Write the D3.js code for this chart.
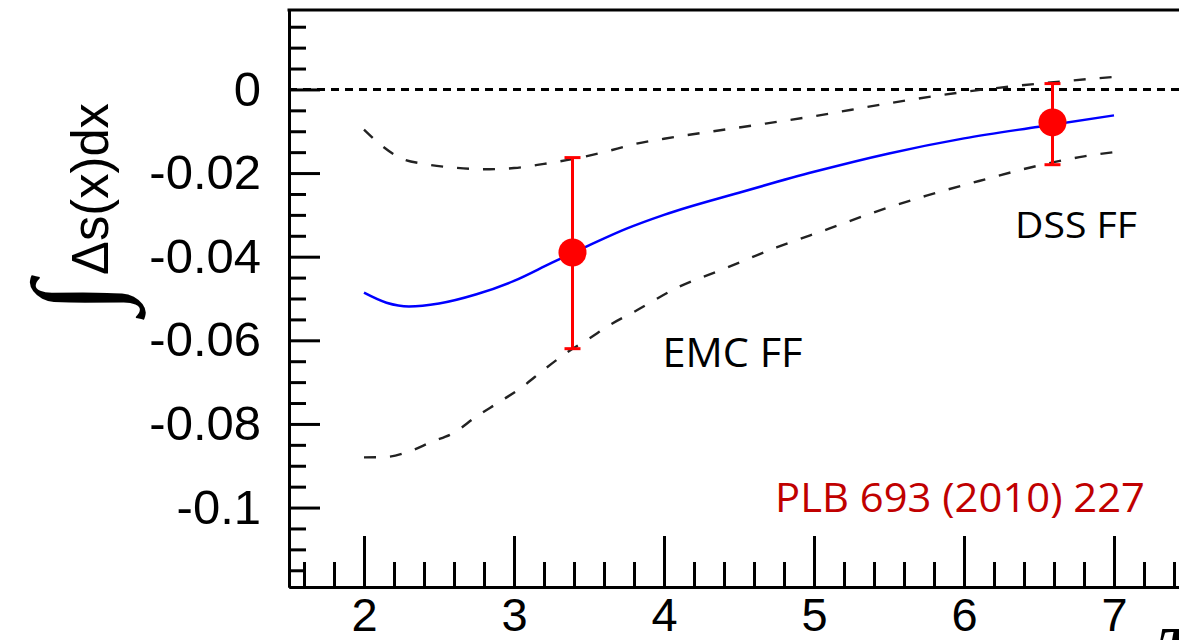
<!DOCTYPE html>
<html>
<head>
<meta charset="utf-8">
<script src="https://cdn.jsdelivr.net/npm/d3@7"></script>
<style>
  body { margin: 0; background: #fff; }
  svg { display: block; }
</style>
</head>
<body>
<script>
// tick values / labels
const xMajor = [2, 3, 4, 5, 6, 7];
const yMajor = [0, -0.02, -0.04, -0.06, -0.08, -0.1];

// central curve (blue)
const centralX = [2.0, 2.15, 2.3, 2.5, 2.75, 3.0, 3.25, 3.5, 3.75, 4.0, 4.5, 5.0, 5.5, 6.0, 6.5, 7.0];
const centralY = [-0.0486, -0.0510, -0.0519, -0.0512, -0.0490, -0.0458, -0.0415, -0.0373, -0.0333, -0.0300, -0.0247, -0.0197, -0.0153, -0.0117, -0.0089, -0.0062];

// upper band (dashed)
const upperX = [2.0, 2.1, 2.25, 2.4, 2.6, 2.8, 3.0, 3.2, 3.4, 3.6, 3.8, 4.0, 4.5, 5.0, 5.5, 6.0, 6.5, 7.0];
const upperY = [-0.0096, -0.0129, -0.0165, -0.0178, -0.0187, -0.0191, -0.0188, -0.0178, -0.0166, -0.0150, -0.0131, -0.0118, -0.0091, -0.0064, -0.0033, -0.0006, 0.0014, 0.0030];

// lower band (dashed)
const lowerX = [2.0, 2.15, 2.3, 2.45, 2.6, 2.75, 2.9, 3.05, 3.2, 3.35, 3.5, 3.65, 3.8, 4.1, 4.4, 4.75, 5.1, 5.4, 5.75, 6.1, 6.45, 6.8, 7.0];
const lowerY = [-0.0880, -0.0879, -0.0866, -0.0843, -0.0821, -0.0782, -0.0748, -0.0713, -0.0670, -0.0630, -0.0596, -0.0561, -0.0532, -0.0472, -0.0429, -0.0378, -0.0333, -0.0294, -0.0254, -0.0219, -0.0186, -0.0160, -0.0150];

// data points with error bars
const pointX = [3.39, 6.59];
const pointY = [-0.0390, -0.0079];
const pointLow = [-0.0620, -0.0180];
const pointHigh = [-0.0163, 0.0014];

// text annotations
const noteText = ["EMC FF", "DSS FF"];
const noteX = [3.99, 6.34];
const noteY = [-0.0664, -0.0355];
const refText = "PLB 693 (2010) 227";

const W = 1179, H = 640;

const svg = d3.select("body").append("svg")
    .attr("width", W)
    .attr("height", H);

// scales (frame runs past the right edge of the window)
const x = d3.scaleLinear().domain([1.5, 7.6]).range([289, 1204]);
const y = d3.scaleLinear().domain([-0.119, 0.019]).range([587, 10]);

const xMinor = d3.range(8, 38).map(i => +(i * 0.2).toFixed(1)).filter(v => !xMajor.includes(v));
const yMinor = d3.range(-23, 4).map(i => +(i * 0.005).toFixed(3)).filter(v => !yMajor.includes(v));

const fmt = d => d === 0 ? "0" : String(+d.toFixed(2));

function styleAxis(g, size) {
  g.selectAll("line, path").attr("stroke", "#000").attr("stroke-width", 3);
  g.selectAll("text")
    .attr("fill", "#000")
    .style("font-family", "'Liberation Sans', Arial, sans-serif")
    .style("font-size", (size || 49) + "px");
}

// y axis: minor then major ticks, pointing inward
svg.append("g")
    .attr("transform", `translate(${x(1.5)},0)`)
    .call(d3.axisLeft(y).tickValues(yMinor).tickSizeInner(-17).tickSizeOuter(0).tickFormat(""))
    .call(styleAxis);

svg.append("g")
    .attr("transform", `translate(${x(1.5)},0)`)
    .call(d3.axisLeft(y).tickValues(yMajor).tickSizeInner(-31).tickSizeOuter(0).tickPadding(28).tickFormat(fmt))
    .call(styleAxis);

// x axis
svg.append("g")
    .attr("transform", `translate(0,${y(-0.119)})`)
    .call(d3.axisBottom(x).tickValues(xMinor).tickSizeInner(-25).tickSizeOuter(0).tickFormat(""))
    .call(styleAxis);

svg.append("g")
    .attr("transform", `translate(0,${y(-0.119)})`)
    .call(d3.axisBottom(x).tickValues(xMajor).tickSizeInner(-51).tickSizeOuter(0).tickPadding(11).tickFormat(d3.format("d")))
    .call(g => styleAxis(g, 47));

// top frame
svg.append("line")
    .attr("x1", x(1.5) - 1.5).attr("x2", x(7.6))
    .attr("y1", y(0.019)).attr("y2", y(0.019))
    .attr("stroke", "#000").attr("stroke-width", 3);

// zero line
svg.append("line")
    .attr("x1", x(1.5)).attr("x2", x(7.6))
    .attr("y1", y(0)).attr("y2", y(0))
    .attr("stroke", "#000").attr("stroke-width", 3)
    .attr("stroke-dasharray", "8,6");

const line = d3.line()
    .x(d => x(d[0]))
    .y(d => y(d[1]))
    .curve(d3.curveMonotoneX);

svg.append("path")
    .datum(d3.zip(upperX, upperY))
    .attr("d", line)
    .attr("fill", "none").attr("stroke", "#222").attr("stroke-width", 2.4)
    .attr("stroke-dasharray", "12,14");

svg.append("path")
    .datum(d3.zip(lowerX, lowerY))
    .attr("d", line)
    .attr("fill", "none").attr("stroke", "#222").attr("stroke-width", 2.4)
    .attr("stroke-dasharray", "12,14");

svg.append("path")
    .datum(d3.zip(centralX, centralY))
    .attr("d", line)
    .attr("fill", "none").attr("stroke", "#0000ff").attr("stroke-width", 2.5);

// points with error bars
const pts = pointX.map((px, i) => ({ x: px, y: pointY[i], lo: pointLow[i], hi: pointHigh[i] }));
const pg = svg.append("g").selectAll("g").data(pts).enter().append("g");

pg.append("line")
    .attr("x1", d => x(d.x)).attr("x2", d => x(d.x))
    .attr("y1", d => y(d.lo)).attr("y2", d => y(d.hi))
    .attr("stroke", "#ff0000").attr("stroke-width", 3);
pg.append("line")
    .attr("x1", d => x(d.x) - 8).attr("x2", d => x(d.x) + 8)
    .attr("y1", d => y(d.lo)).attr("y2", d => y(d.lo))
    .attr("stroke", "#ff0000").attr("stroke-width", 3);
pg.append("line")
    .attr("x1", d => x(d.x) - 8).attr("x2", d => x(d.x) + 8)
    .attr("y1", d => y(d.hi)).attr("y2", d => y(d.hi))
    .attr("stroke", "#ff0000").attr("stroke-width", 3);
pg.append("circle")
    .attr("cx", d => x(d.x)).attr("cy", d => y(d.y))
    .attr("r", 14)
    .attr("fill", "#ff0000");

// annotations
svg.selectAll(".note").data(noteText).enter().append("text")
    .attr("class", "note")
    .attr("x", (d, i) => x(noteX[i]))
    .attr("y", (d, i) => y(noteY[i]))
    .attr("textLength", (d, i) => i === 0 ? 140 : 122)
    .attr("lengthAdjust", "spacingAndGlyphs")
    .style("font-family", "'Open Sans', 'Noto Sans', sans-serif")
    .style("font-size", (d, i) => i === 0 ? "40px" : "37px")
    .attr("fill", "#000")
    .text(d => d);

svg.append("text")
    .attr("x", x(4.74))
    .attr("y", y(-0.101))
    .attr("textLength", 370)
    .attr("lengthAdjust", "spacingAndGlyphs")
    .style("font-family", "'Open Sans', 'Noto Sans', sans-serif")
    .style("font-size", "40px")
    .attr("fill", "#c00000")
    .text(refText);

// y axis title
svg.append("text")
    .attr("transform", "translate(108,189) rotate(-90)")
    .attr("text-anchor", "middle")
    .attr("textLength", 172)
    .attr("lengthAdjust", "spacingAndGlyphs")
    .style("font-family", "'Liberation Sans', Arial, sans-serif")
    .style("font-size", "52px")
    .text("Δs(x)dx");

svg.append("text")
    .attr("transform", "translate(74,297) rotate(-90)")
    .attr("text-anchor", "middle")
    .attr("dominant-baseline", "central")
    .style("font-family", "'Liberation Serif', 'DejaVu Serif', serif")
    .style("font-size", "118px")
    .text("∫");

// x axis title (cut off by the window edge)
svg.append("text")
    .attr("x", 1156)
    .attr("y", 668)
    .style("font-family", "'Liberation Serif', serif")
    .style("font-style", "italic")
    .style("font-weight", "bold")
    .style("font-size", "60px")
    .text("T");
</script>
</body>
</html>
